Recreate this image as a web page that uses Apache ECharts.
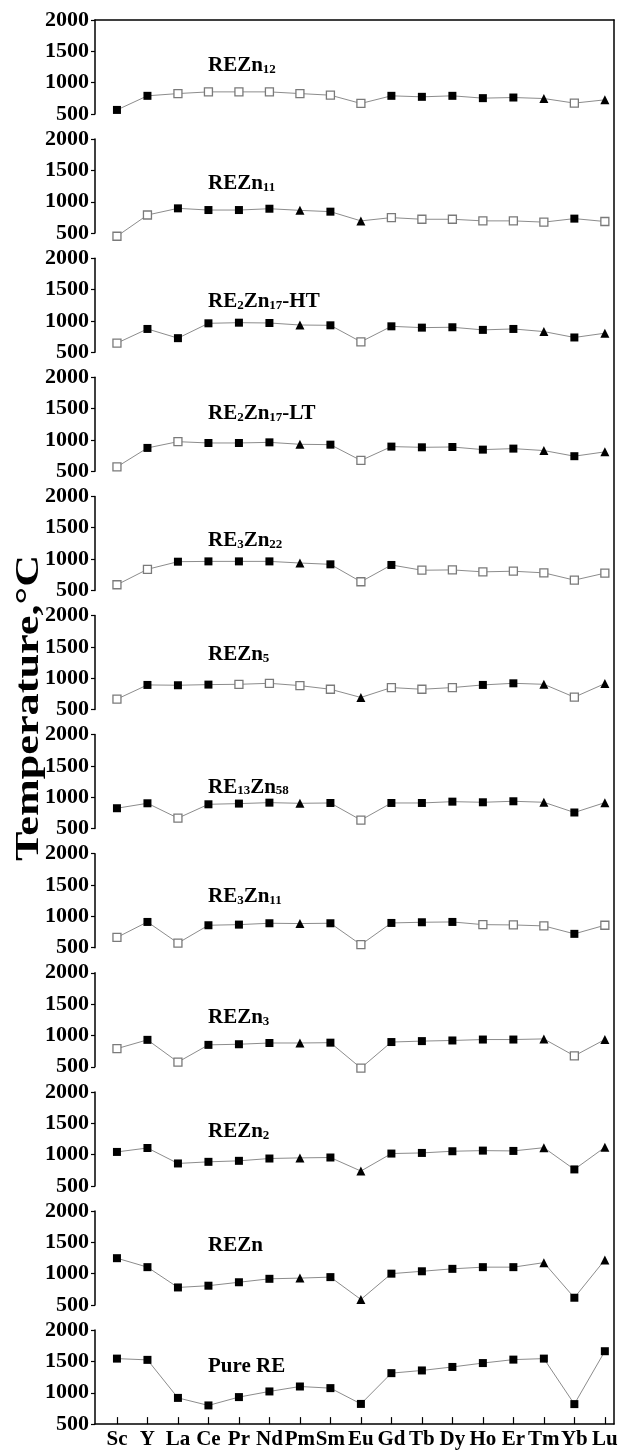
<!DOCTYPE html>
<html><head><meta charset="utf-8">
<script src="https://cdn.jsdelivr.net/npm/echarts@6/dist/echarts.min.js"></script>
<style>html,body{margin:0;padding:0;background:#fff}#c{width:620px;height:1450px}</style>
</head><body><div id="c"></div>
<script>
const categories = ['Sc','Y','La','Ce','Pr','Nd','Pm','Sm','Eu','Gd','Tb','Dy','Ho','Er','Tm','Yb','Lu'];
const yTicks = [500, 1000, 1500, 2000];
const compounds = ['REZn12','REZn11','RE2Zn17-HT','RE2Zn17-LT','RE3Zn22','REZn5','RE13Zn58','RE3Zn11','REZn3','REZn2','REZn','Pure RE'];
const axisTitle = 'Temperature,°C';

// temperatures (°C), one array per compound
const tREZn12   = [565, 790, 826, 853, 853, 853, 826, 800, 668, 790, 774, 790, 753, 763, 747, 674, 726];
const tREZn11   = [450, 789, 895, 868, 868, 889, 863, 842, 695, 747, 721, 721, 695, 695, 675, 731, 685];
const tRE2Zn17HT = [645, 871, 724, 961, 971, 966, 934, 929, 666, 913, 892, 898, 856, 871, 829, 735, 803];
const tRE2Zn17LT = [570, 873, 973, 952, 952, 962, 931, 925, 673, 894, 883, 888, 846, 862, 831, 741, 810];
const tRE3Zn22  = [590, 837, 958, 963, 963, 963, 937, 916, 638, 906, 822, 827, 796, 806, 780, 664, 775];
const tREZn5    = [666, 892, 887, 897, 902, 918, 881, 823, 692, 850, 823, 850, 892, 918, 902, 697, 913];
const tRE13Zn58 = [825, 904, 667, 888, 899, 914, 904, 909, 636, 909, 909, 930, 920, 936, 920, 757, 914];
const tRE3Zn11  = [664, 911, 574, 858, 868, 890, 885, 890, 548, 895, 906, 911, 868, 863, 848, 721, 858];
const tREZn3    = [790, 930, 575, 850, 860, 880, 880, 885, 480, 895, 910, 920, 935, 935, 945, 675, 935];
const tREZn2    = [1042, 1105, 858, 884, 900, 937, 947, 953, 737, 1016, 1026, 1053, 1063, 1058, 1110, 763, 1116];
const tREZn     = [1247, 1104, 780, 808, 863, 918, 929, 945, 588, 1000, 1038, 1077, 1104, 1104, 1176, 616, 1220];
const tPureRE   = [1545, 1525, 918, 798, 931, 1021, 1100, 1074, 822, 1313, 1356, 1412, 1474, 1529, 1545, 819, 1663];

// marker kind per point: f = filled square, o = open square, t = filled triangle
const mREZn12   = ['f','f','o','o','o','o','o','o','o','f','f','f','f','f','t','o','t'];
const mREZn11   = ['o','o','f','f','f','f','t','f','t','o','o','o','o','o','o','f','o'];
const mRE2Zn17HT = ['o','f','f','f','f','f','t','f','o','f','f','f','f','f','t','f','t'];
const mRE2Zn17LT = ['o','f','o','f','f','f','t','f','o','f','f','f','f','f','t','f','t'];
const mRE3Zn22  = ['o','o','f','f','f','f','t','f','o','f','o','o','o','o','o','o','o'];
const mREZn5    = ['o','f','f','f','o','o','o','o','t','o','o','o','f','f','t','o','t'];
const mRE13Zn58 = ['f','f','o','f','f','f','t','f','o','f','f','f','f','f','t','f','t'];
const mRE3Zn11  = ['o','f','o','f','f','f','t','f','o','f','f','f','o','o','o','f','o'];
const mREZn3    = ['o','f','o','f','f','f','t','f','o','f','f','f','f','f','t','o','t'];
const mREZn2    = ['f','f','f','f','f','f','t','f','t','f','f','f','f','f','t','f','t'];
const mREZn     = ['f','f','f','f','f','f','t','f','t','f','f','f','f','f','t','f','t'];
const mPureRE   = ['f','f','f','f','f','f','f','f','f','f','f','f','f','f','f','f','f'];

const values = [tREZn12,tREZn11,tRE2Zn17HT,tRE2Zn17LT,tRE3Zn22,tREZn5,tRE13Zn58,tRE3Zn11,tREZn3,tREZn2,tREZn,tPureRE];
const markers = [mREZn12,mREZn11,mRE2Zn17HT,mRE2Zn17LT,mRE3Zn22,mREZn5,mRE13Zn58,mRE3Zn11,mREZn3,mREZn2,mREZn,mPureRE];

// layout
const FONT = '"Liberation Serif", "Times New Roman", serif';
const N = compounds.length;
const TOP0 = 20, STEP = 119.1, H = 94, LEFT = 95, RIGHT = 6;
const titleOffset = [44, 43, 42, 35, 42.5, 38, 51, 41, 43.5, 38, 33.5, 35];

const chart = echarts.init(document.getElementById('c'), null, {renderer: 'canvas'});
const grids = [], xAxes = [], yAxes = [], series = [], titles = [];
const idx = categories.map((c, i) => i);

function richName(n) {
  return '{b|' + n.replace(/(\d+)/g, '}{s|$1}{b|') + '}';
}
function itemFor(kind) {
  if (kind === 'o') return {symbol: 'rect', symbolSize: 8, itemStyle: {color: '#fff', borderColor: '#7a7a7a', borderWidth: 1.3}};
  if (kind === 't') return {symbol: 'triangle', symbolSize: 9, itemStyle: {color: '#000', borderColor: '#000', borderWidth: 0}};
  return {symbol: 'rect', symbolSize: 8, itemStyle: {color: '#000', borderColor: '#000', borderWidth: 0}};
}

for (let i = 0; i < N; i++) {
  const top = TOP0 + i * STEP;
  const last = i === N - 1;
  grids.push({left: LEFT, right: RIGHT, top: top, height: H, containLabel: false, outerBoundsMode: 'none'});
  xAxes.push({
    gridIndex: i, type: 'value', min: -0.72, max: 16.3, show: last,
    axisLine: {show: last, onZero: false, lineStyle: {color: '#000', width: 1.5}},
    axisTick: {show: last, inside: true, length: 7, customValues: idx, lineStyle: {color: '#000', width: 1.2}},
    axisLabel: {show: last, customValues: idx, formatter: v => categories[Math.round(v)],
      color: '#000', fontFamily: FONT, fontWeight: 'bold', fontSize: 21, margin: 5},
    splitLine: {show: false}
  });
  yAxes.push({
    gridIndex: i, type: 'value', min: yTicks[0], max: yTicks[yTicks.length - 1], interval: 500,
    axisLine: {show: true, onZero: false, lineStyle: {color: '#000', width: 1.5}},
    axisTick: {show: true, length: 4, lineStyle: {color: '#000', width: 1.2}},
    axisLabel: {color: '#000', fontFamily: FONT, fontWeight: 'bold', fontSize: 22, margin: 6, formatter: v => String(v)},
    splitLine: {show: false}
  });
  series.push({
    type: 'line', xAxisIndex: i, yAxisIndex: i, clip: false, animation: false,
    lineStyle: {color: '#8c8c8c', width: 1},
    itemStyle: {color: '#000'},
    data: values[i].map((v, j) => Object.assign({value: [j, v]}, itemFor(markers[i][j])))
  });
  titles.push({
    text: richName(compounds[i]), left: 208, top: top + titleOffset[i] - 12, padding: 0,
    textStyle: {rich: {
      b: {fontFamily: FONT, fontWeight: 'bold', fontSize: 21, color: '#000', verticalAlign: 'bottom', lineHeight: 24},
      s: {fontFamily: FONT, fontWeight: 'bold', fontSize: 13, color: '#000', verticalAlign: 'bottom', lineHeight: 22}
    }}
  });
}
// frame: top border and right border
grids.push({left: LEFT, right: RIGHT, top: TOP0, bottom: 1450 - (TOP0 + (N - 1) * STEP + H), containLabel: false, outerBoundsMode: 'none'});
xAxes.push({gridIndex: N, type: 'value', min: 0, max: 1, position: 'top',
  axisLine: {show: true, onZero: false, lineStyle: {color: '#000', width: 1.5}}, axisTick: {show: false}, axisLabel: {show: false}, splitLine: {show: false}});
yAxes.push({gridIndex: N, type: 'value', min: 0, max: 1, position: 'right',
  axisLine: {show: true, onZero: false, lineStyle: {color: '#000', width: 1.5}}, axisTick: {show: false}, axisLabel: {show: false}, splitLine: {show: false}});

chart.setOption({
  animation: false,
  backgroundColor: '#fff',
  title: titles,
  grid: grids, xAxis: xAxes, yAxis: yAxes, series: series,
  graphic: [{
    type: 'text', x: 29, y: 708, rotation: Math.PI / 2, scaleX: 1.3, scaleY: 1,
    style: {text: axisTitle, fontFamily: FONT, fontWeight: 'bold', fontSize: 34, fill: '#000', align: 'center', verticalAlign: 'middle'}
  }]
});
</script></body></html>
